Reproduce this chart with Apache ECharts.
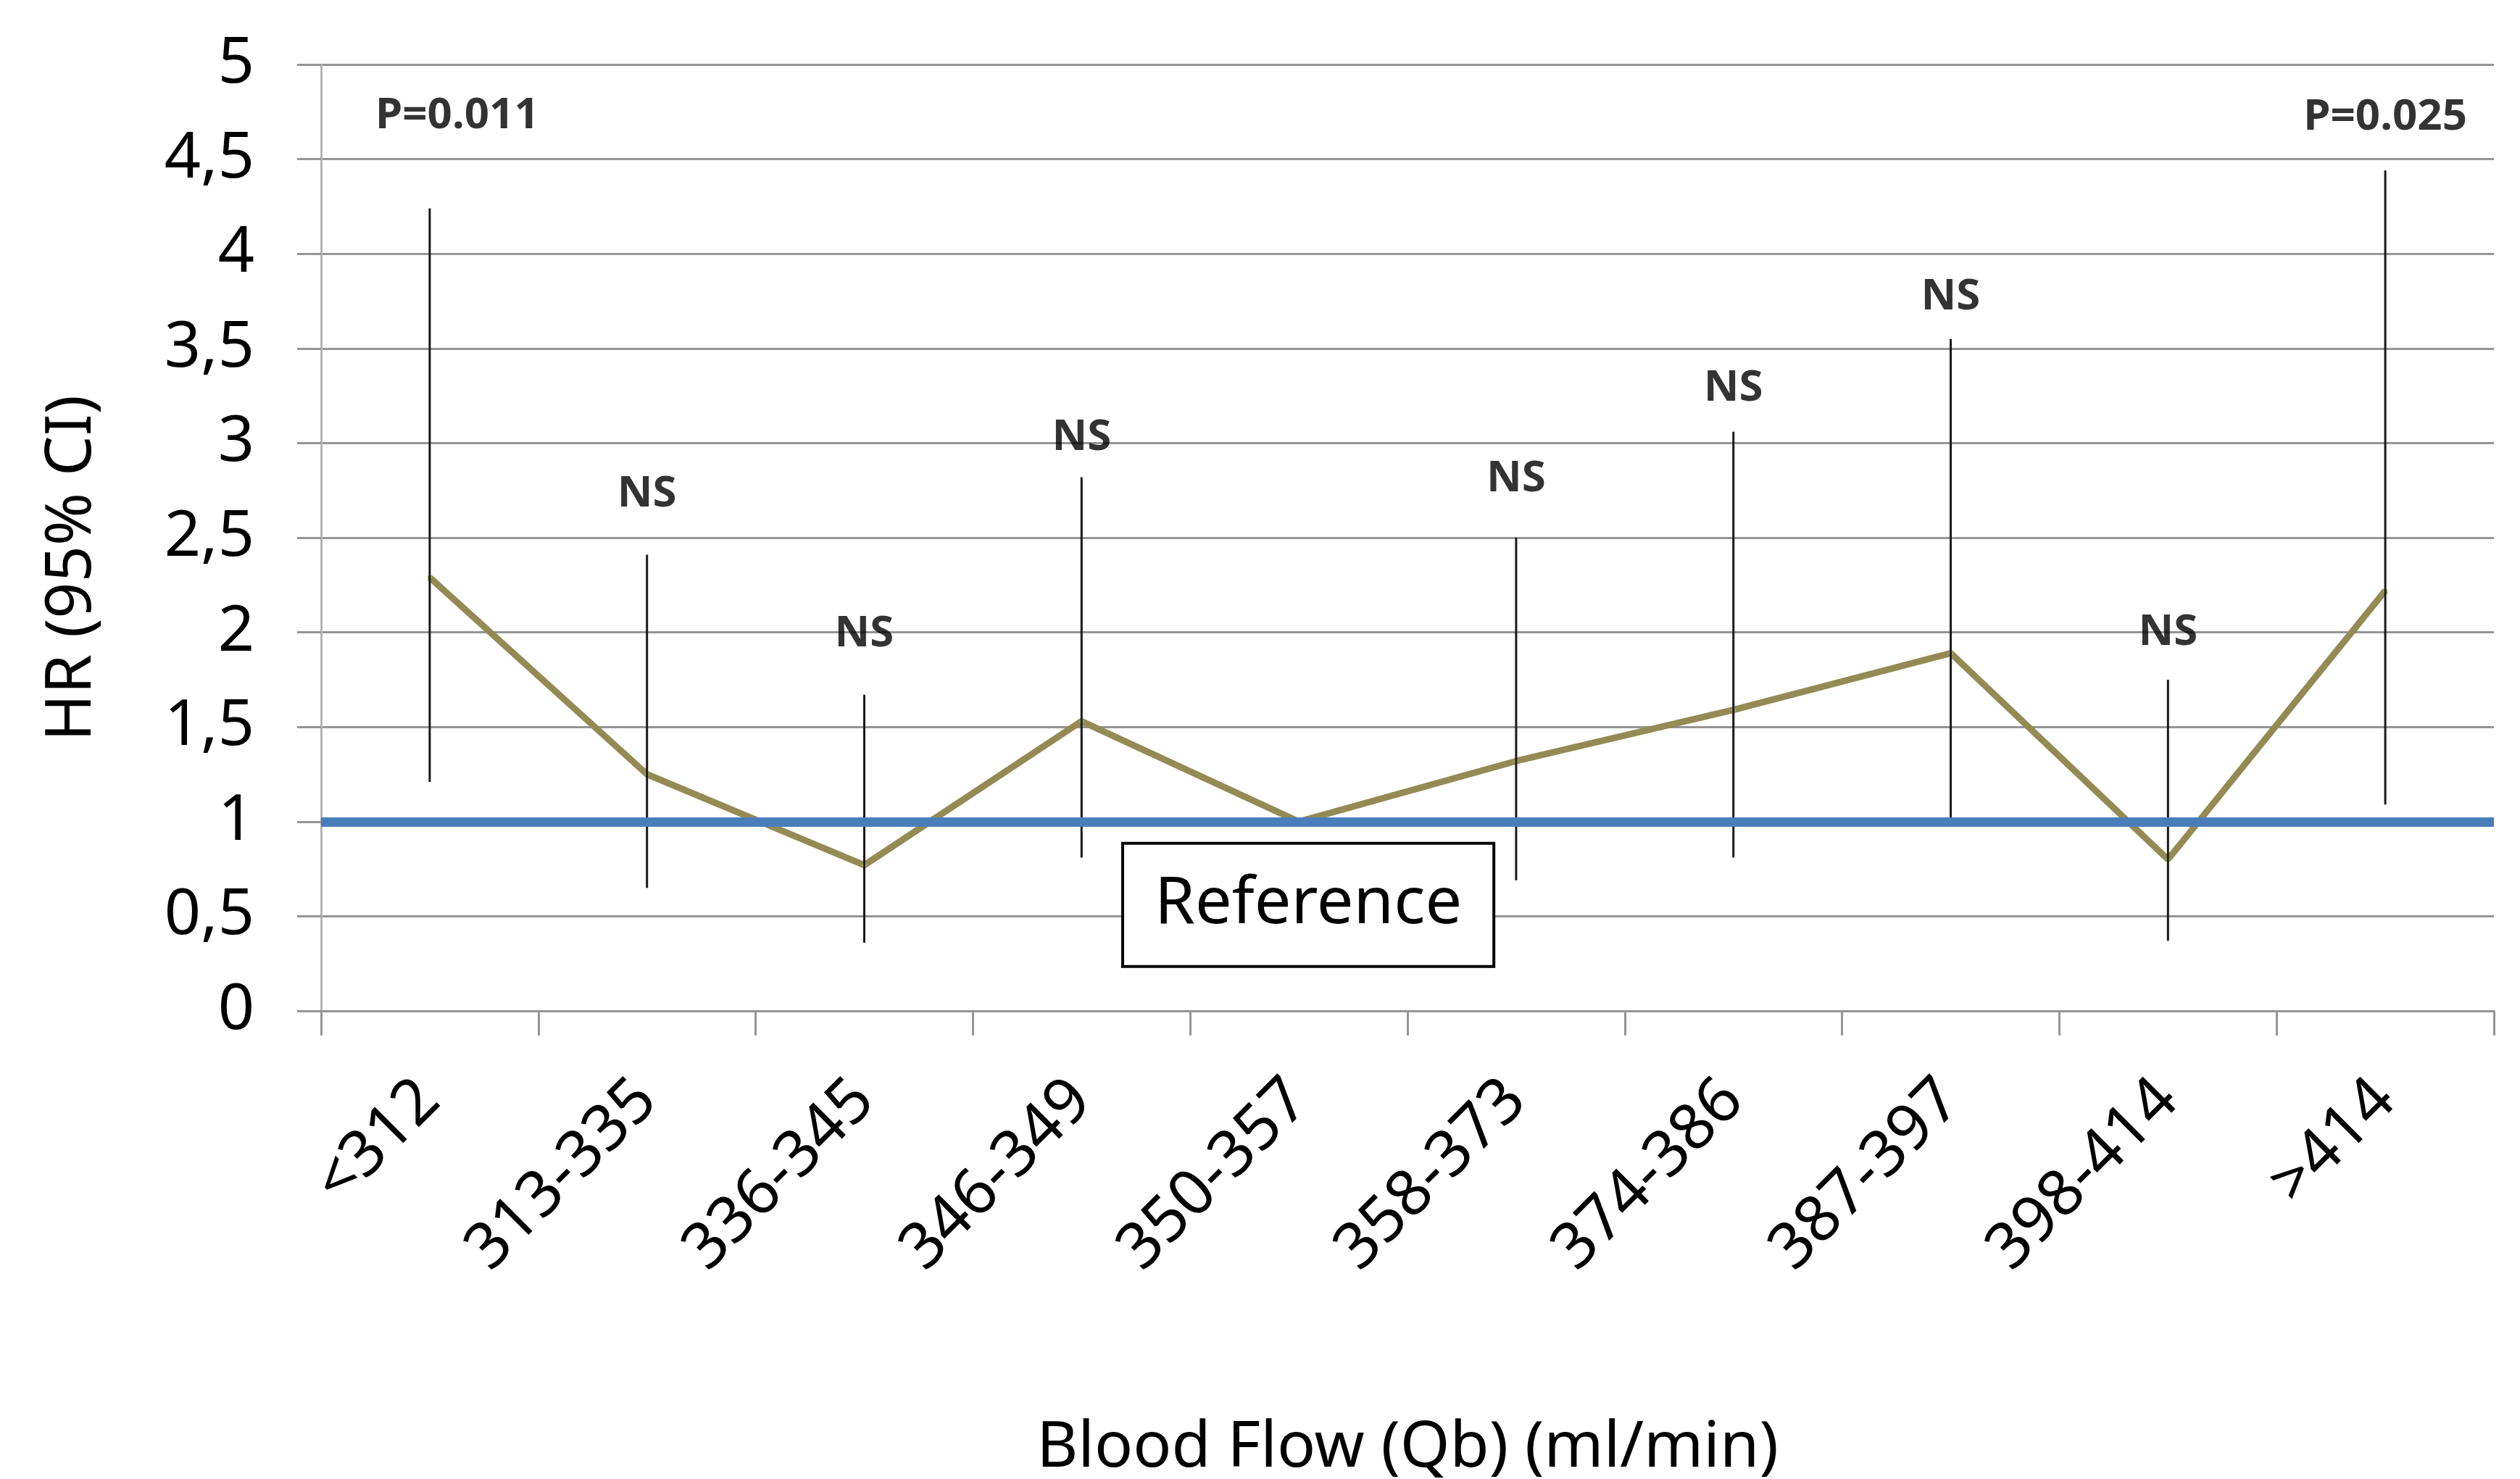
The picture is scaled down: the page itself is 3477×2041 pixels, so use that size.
<!DOCTYPE html>
<html>
<head>
<meta charset="utf-8">
<title>HR by blood flow</title>
<script src="https://cdn.jsdelivr.net/npm/echarts@6/dist/echarts.min.js"></script>
<style>
  html, body { margin: 0; padding: 0; background: #fff; }
  #chart { width: 3477px; height: 2041px; }
</style>
</head>
<body>
<div id="chart"></div>
<script>
// 血流量分组
const categories = ['<312', '313-335', '336-345', '346-349', '350-357', '358-373', '374-386', '387-397', '398-414', '>414']
// HR 及 95% CI
const hr = [2.29, 1.25, 0.77, 1.53, 1.0, 1.32, 1.59, 1.89, 0.80, 2.22]
const ciLow = [1.21, 0.65, 0.36, 0.81, null, 0.69, 0.81, 1.02, 0.37, 1.09]
const ciHigh = [4.24, 2.41, 1.67, 2.82, null, 2.50, 3.06, 3.55, 1.75, 4.44]
// P 值标注
const pText = ['P=0.011', 'NS', 'NS', 'NS', '', 'NS', 'NS', 'NS', 'NS', 'P=0.025']
const pY = [4.73, 2.73, 1.99, 3.03, null, 2.81, 3.29, 3.77, 2.00, 4.72]
// 参考组
const refValue = 1
const refLabel = 'Reference'
const refCategory = '350-357'
const refLabelY = 0.56
const yTicks = [0, 5, 0.5] // min, max, interval

const font = 'Noto Sans'
const gridColor = '#959595'

let chart = echarts.init(document.getElementById('chart'))

let barData = categories.map((c, i) => [i, ciLow[i], ciHigh[i]]).filter(d => d[1] != null)
let pData = []
categories.forEach((c, i) => {
  if (pY[i] == null) return
  let item = { value: [c, pY[i]], name: pText[i] }
  if (i === 0) item.label = { offset: [38, 0] }
  pData.push(item)
})

let option = {
  animation: false,
  backgroundColor: '#fff',
  grid: { left: 443, right: 36, top: 89, bottom: 646, containLabel: false, outerBoundsMode: 'none' },
  xAxis: {
    type: 'category',
    data: categories,
    boundaryGap: true,
    name: 'Blood Flow (Qb) (ml/min)',
    nameLocation: 'middle',
    nameGap: 560,
    nameTextStyle: { fontFamily: font, fontSize: 88, color: '#000' },
    axisLine: { lineStyle: { color: gridColor, width: 3 } },
    axisTick: { show: true, length: 34, lineStyle: { color: gridColor, width: 3 } },
    axisLabel: { rotate: 45, margin: 110, fontFamily: font, fontSize: 88, color: '#000' },
    splitLine: { show: false }
  },
  yAxis: {
    type: 'value',
    min: yTicks[0],
    max: yTicks[1],
    interval: yTicks[2],
    name: 'HR (95% CI)',
    nameLocation: 'middle',
    nameGap: 299,
    nameTextStyle: { fontFamily: font, fontSize: 88, color: '#000', padding: [0, 84, 0, 0] },
    axisLine: { show: true, lineStyle: { color: '#b5b5b5', width: 3 } },
    axisTick: { show: true, length: 33, lineStyle: { color: gridColor, width: 3 } },
    axisLabel: {
      margin: 92,
      fontFamily: font,
      fontSize: 88,
      color: '#000',
      formatter: v => String(v).replace('.', ',')
    },
    splitLine: { show: true, lineStyle: { color: gridColor, width: 3 } }
  },
  series: [
    {
      name: 'HR',
      type: 'line',
      data: hr,
      z: 2,
      symbol: 'circle',
      symbolSize: 6,
      itemStyle: { color: '#9bbb59' },
      lineStyle: { color: '#948a54', width: 9 }
    },
    {
      name: 'ref',
      type: 'line',
      data: [],
      z: 3,
      markLine: {
        silent: true,
        symbol: 'none',
        label: { show: false },
        lineStyle: { color: '#4a7ebb', width: 13, type: 'solid' },
        data: [{ yAxis: refValue }]
      },
      markPoint: {
        silent: true,
        symbol: 'rect',
        symbolSize: 0,
        data: [{ coord: [refCategory, refLabelY] }],
        label: {
          show: true,
          formatter: refLabel,
          position: 'inside',
          offset: [13, 0],
          fontFamily: font,
          fontSize: 90,
          lineHeight: 90,
          color: '#000',
          backgroundColor: '#fff',
          borderColor: '#000',
          borderWidth: 4,
          padding: [38, 42, 38, 42]
        }
      }
    },
    {
      name: 'CI',
      type: 'custom',
      z: 4,
      data: barData,
      renderItem: function (params, api) {
        let lo = api.coord([api.value(0), api.value(1)])
        let hi = api.coord([api.value(0), api.value(2)])
        return {
          type: 'line',
          shape: { x1: lo[0], y1: lo[1], x2: hi[0], y2: hi[1] },
          style: { stroke: '#1a1a1a', lineWidth: 3 }
        }
      }
    },
    {
      name: 'P',
      type: 'scatter',
      z: 5,
      symbolSize: 0,
      data: pData,
      label: {
        show: true,
        position: 'inside',
        formatter: p => p.name,
        fontFamily: font,
        fontWeight: 'bold',
        fontSize: 60,
        color: '#000'
      }
    }
  ]
}

chart.setOption(option)
</script>
</body>
</html>
